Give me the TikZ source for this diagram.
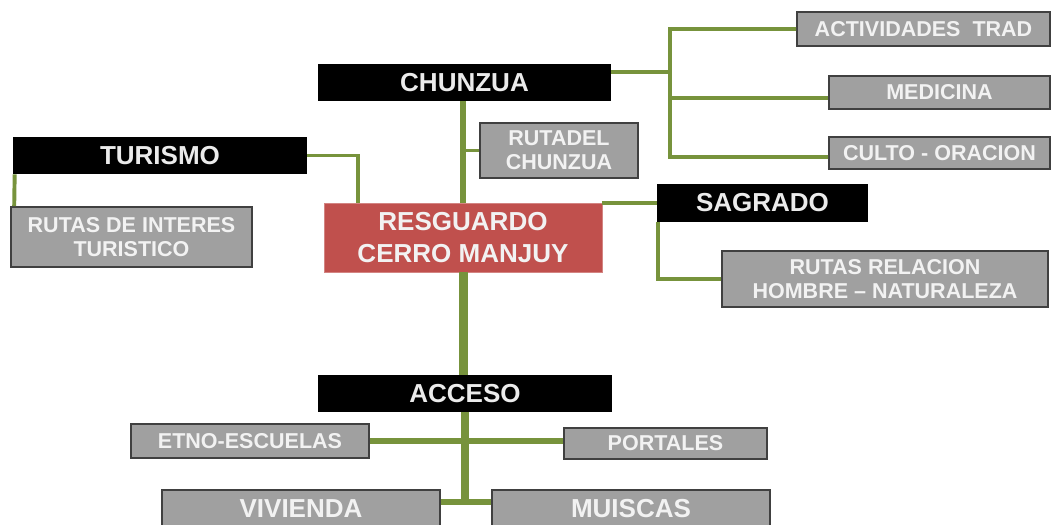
\documentclass[tikz,border=0pt]{standalone}
\usepackage{fontspec}
\setmainfont{Liberation Sans}
\usepackage{tikz}
\definecolor{verde}{HTML}{77933C}
\definecolor{rojo}{HTML}{C0504D}
\definecolor{gris}{HTML}{A0A0A0}
\definecolor{borde}{HTML}{404040}
\tikzstyle{box_black} = [rectangle, fill=black, text=white!92!black, inner sep=0pt, font=\bfseries\fontsize{18.5}{22}\selectfont]
\tikzstyle{box_red} = [rectangle, fill=rojo, draw=rojo!70!white, line width=0.6pt, text=white!95!black, inner sep=0pt, align=center, font=\bfseries\fontsize{18.5}{22.5}\selectfont]
\tikzstyle{box_gray} = [rectangle, fill=gris, draw=borde, line width=1.1pt, text=white!95!black, inner sep=0pt, align=center, font=\bfseries\fontsize{15.3}{17}\selectfont]
\tikzstyle{box_gray_big} = [box_gray, font=\bfseries\fontsize{18.5}{22}\selectfont]
\tikzstyle{edge_normal} = [draw=verde, line width=2.8pt]
\tikzstyle{edge_trunk} = [draw=verde, line width=6.4pt]

\begin{document}
\begin{tikzpicture}[x=0.025cm, y=-0.025cm]
\clip (0,0) rectangle (1051,525);
\useasboundingbox (0,0) rectangle (1051,525);
\node (chunzua) at (464.5,82.5) [box_black, minimum width=7.325cm, minimum height=0.925cm] {CHUNZUA};
\node (ruta) at (559,150.5) [box_gray, minimum width=3.95cm, minimum height=1.375cm] {RUTADEL\\CHUNZUA};
\node (resguardo) at (463,237.5) [box_red, minimum width=6.95cm, minimum height=1.725cm] {RESGUARDO\\CERRO MANJUY};
\node (turismo) at (160,155.5) [box_black, minimum width=7.35cm, minimum height=0.925cm] {TURISMO};
\node (rutas_int) at (131.5,237) [box_gray, minimum width=6.025cm, minimum height=1.5cm] {RUTAS DE INTERES\\TURISTICO};
\node (actividades) at (923.5,29) [box_gray, minimum width=6.325cm, minimum height=0.85cm] {ACTIVIDADES\ \ TRAD};
\node (medicina) at (939.5,92.5) [box_gray, minimum width=5.525cm, minimum height=0.825cm] {MEDICINA};
\node (culto) at (939.5,153) [box_gray, minimum width=5.525cm, minimum height=0.8cm] {CULTO - ORACION};
\node (sagrado) at (762.5,203) [box_black, minimum width=5.275cm, minimum height=0.95cm] {SAGRADO};
\node (rutas_rel) at (885,279) [box_gray, minimum width=8.15cm, minimum height=1.4cm] {RUTAS RELACION\\HOMBRE -- NATURALEZA};
\node (acceso) at (465,393.5) [box_black, minimum width=7.35cm, minimum height=0.925cm] {ACCESO};
\node (etno) at (250,441) [box_gray, minimum width=5.95cm, minimum height=0.85cm] {ETNO-ESCUELAS};
\node (portales) at (665.5,443.5) [box_gray, minimum width=5.075cm, minimum height=0.775cm] {PORTALES};
\node (vivienda) at (301,509) [box_gray_big, minimum width=6.95cm, minimum height=0.95cm] {VIVIENDA};
\node (muiscas) at (631,509) [box_gray_big, minimum width=6.95cm, minimum height=0.95cm] {MUISCAS};
\coordinate (fork_top) at (670,29);
\coordinate (fork_bot) at (670,157);
\coordinate (acc_end) at (465,502);
% chunzua
\draw[edge_normal, line width=3.6pt] (chunzua.south -| resguardo.north) -- (resguardo.north);
\draw[edge_normal] (ruta.west) -- (ruta.west -| resguardo.north);
\draw[edge_normal] ([yshift=0.26cm]chunzua.east) -- ([yshift=0.26cm]chunzua.east -| fork_top);
\draw[edge_normal] (actividades.west) -- (actividades.west -| fork_top) -- (fork_bot) -- ([yshift=-0.1cm]culto.west);
\draw[edge_normal] ([yshift=-0.13cm]medicina.west) -- ([yshift=-0.13cm]medicina.west -| fork_top);
% turismo
\draw[edge_normal] (turismo.east) -| ([xshift=0.85cm]resguardo.north west);
\draw[edge_normal] ([xshift=0.05cm]turismo.south west) -- ([xshift=0.1cm]rutas_int.north west);
% sagrado
\draw[edge_normal] (sagrado.west) -- (sagrado.west -| resguardo.east);
\draw[edge_normal] ([xshift=0.03cm]sagrado.south west) |- (rutas_rel.west);
% acceso
\draw[edge_trunk] (resguardo.south) -- (resguardo.south |- acceso.north);
\draw[edge_normal, line width=5pt] (acceso.south) -- (acc_end);
\draw[edge_normal, line width=3.6pt] (etno.east) -- (etno.east -| portales.west);
\draw[edge_normal, line width=3.6pt] ([yshift=0.175cm]vivienda.east) -- ([yshift=0.175cm]muiscas.west);
\end{tikzpicture}
\end{document}
